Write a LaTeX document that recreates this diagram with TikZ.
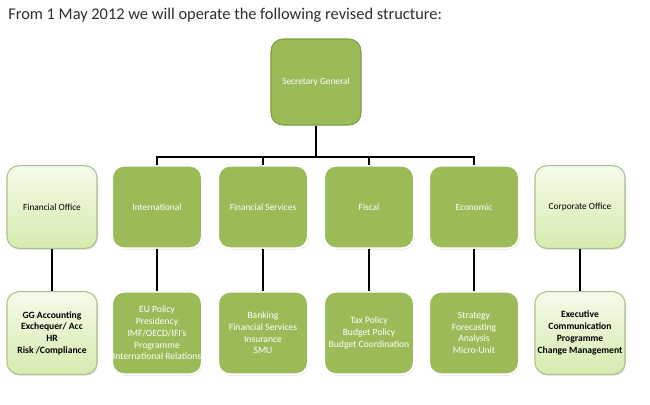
\documentclass[tikz,border=0pt]{standalone}
\usepackage{fontspec}
\setmainfont{Carlito}
\usetikzlibrary{shadows}
\definecolor{olive}{HTML}{9BBB59}
\definecolor{oliveedge}{HTML}{7E9E42}
\definecolor{lighttop}{HTML}{F5FBEA}
\definecolor{lightbot}{HTML}{D6EBAE}
\definecolor{lightedge}{HTML}{A9C48A}
\definecolor{titlegrey}{HTML}{2E2E2E}
\tikzset{
  x=0.75pt, y=-0.75pt,
  boxbase/.style={rounded corners=9pt, minimum width=67.5pt, minimum height=62pt, inner sep=0pt, align=center},
  darkbox/.style={boxbase, fill=olive, draw=white, line width=1.5pt, text=white,
     drop shadow={shadow xshift=0.6pt, shadow yshift=-0.9pt, fill=black!35, opacity=0.5}},
  topbox/.style={boxbase, fill=olive, draw=oliveedge, line width=0.8pt, text=white},
  lightbox/.style={boxbase, top color=lighttop, bottom color=lightbot, draw=lightedge, line width=0.8pt, text=black,
     drop shadow={shadow xshift=0.6pt, shadow yshift=-0.9pt, fill=black!35, opacity=0.5}},
  smalltxt/.style={font=\fontsize{7pt}{8.5pt}\selectfont},
  lowtxt/.style={font=\fontsize{7.2pt}{8.8pt}\selectfont},
  conn/.style={line width=1.6pt, draw=black}
}
\begin{document}
\begin{tikzpicture}
\useasboundingbox (0,0) rectangle (650,404);
\fill[white] (0,0) rectangle (650,404);
\node[anchor=west, text=titlegrey, font=\fontsize{12.3pt}{14pt}\selectfont, inner sep=0pt] (title) at (8,15) {From 1 May 2012 we will operate the following revised structure:};

\node[topbox, smalltxt, minimum height=64.5pt] (sg) at (316,82) {Secretary General};

\node[lightbox, smalltxt] (fo) at (52,207) {Financial Office};
\node[darkbox, smalltxt] (intl) at (157,207) {International};
\node[darkbox, smalltxt] (fs) at (263,207) {Financial Services};
\node[darkbox, smalltxt] (fis) at (369,207) {Fiscal};
\node[darkbox, smalltxt] (eco) at (474,207) {Economic};
\node[lightbox, smalltxt] (co) at (580,207) {Corporate Office};

\node[lightbox, lowtxt] (fo2) at (52,333) {\textbf{GG Accounting}\\\textbf{Exchequer/ Acc}\\\textbf{HR}\\\textbf{Risk /Compliance}};
\node[darkbox, lowtxt] (intl2) at (157,333) {EU Policy\\Presidency\\IMF/OECD/IFI's\\Programme\\International Relations};
\node[darkbox, lowtxt] (fs2) at (263,333) {Banking\\Financial Services\\Insurance\\SMU};
\node[darkbox, lowtxt] (fis2) at (369,333) {Tax Policy\\Budget Policy\\Budget Coordination};
\node[darkbox, lowtxt] (eco2) at (474,333) {Strategy\\Forecasting\\Analysis\\Micro-Unit};
\node[lightbox, lowtxt] (co2) at (580,333) {\textbf{Executive}\\\textbf{Communication}\\\textbf{Programme}\\\textbf{Change Management}};

\coordinate (bar) at (316,157);
\draw[conn] (sg.south) -- (bar);
\draw[conn] (intl.north) -- (intl.north |- bar) -- (eco.north |- bar) -- (eco.north);
\draw[conn] (fs.north) -- (fs.north |- bar);
\draw[conn] (fis.north) -- (fis.north |- bar);

\draw[conn] (fo.south) -- (fo2.north);
\draw[conn] (intl.south) -- (intl2.north);
\draw[conn] (fs.south) -- (fs2.north);
\draw[conn] (fis.south) -- (fis2.north);
\draw[conn] (eco.south) -- (eco2.north);
\draw[conn] (co.south) -- (co2.north);
\end{tikzpicture}
\end{document}
